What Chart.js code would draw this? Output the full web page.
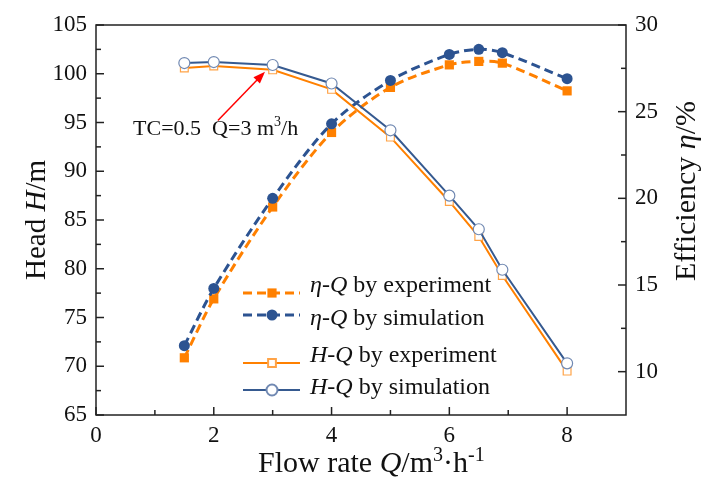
<!DOCTYPE html>
<html>
<head>
<meta charset="utf-8">
<script src="https://cdn.jsdelivr.net/npm/chart.js@4.4.0/dist/chart.umd.min.js"></script>
<style>
    html, body { margin: 0; padding: 0; background: #fff; }
    #wrap { width: 705px; height: 481px; }
</style>
</head>
<body>
<div id="wrap"><canvas id="pumpChart"></canvas></div>
<script>
// values
const flowRate = [1.5, 2, 3, 4, 5, 6, 6.5, 6.9, 8];
const effExperiment = [10.8, 14.2, 19.5, 23.8, 26.4, 27.7, 27.9, 27.8, 26.2];
const effSimulation = [11.5, 14.8, 20.0, 24.3, 26.8, 28.3, 28.6, 28.4, 26.9];
const headExperiment = [100.6, 100.8, 100.4, 98.4, 93.5, 86.9, 83.3, 79.3, 69.5];
const headSimulation = [101.1, 101.2, 100.9, 99.0, 94.2, 87.5, 84.05, 79.9, 70.3];

const flowTicks = [0, 2, 4, 6, 8];
const headTicks = [65, 70, 75, 80, 85, 90, 95, 100, 105];
const effTicks = [10, 15, 20, 25, 30];

const ORANGE = '#FF8000';
const BLUE = '#2C5391';
const SERIF = '"Liberation Serif", "Times New Roman", serif';

const points = (ys) => flowRate.map((q, i) => ({ x: q, y: ys[i] }));
const midpoints = (arr) => arr.slice(1).map((v, i) => (v + arr[i]) / 2);

// text with italic / superscript pieces
function drawRich(ctx, parts, x, y, size, align, supScale) {
    const sc = supScale || 0.62;
    const fontOf = p => (p.it ? 'italic ' : '') + (p.sup ? Math.round(size * sc) : size) + 'px ' + SERIF;
    let total = 0;
    parts.forEach(p => { ctx.font = fontOf(p); total += ctx.measureText(p.t).width; });
    let cx = align === 'center' ? x - total / 2 : x;
    ctx.textAlign = 'left';
    ctx.textBaseline = 'alphabetic';
    parts.forEach(p => {
        ctx.font = fontOf(p);
        ctx.fillText(p.t, cx, p.sup ? y - size * 0.38 : y);
        cx += ctx.measureText(p.t).width;
    });
}

const frameTicks = {
    id: 'frameTicks',
    beforeDatasetsDraw(chart) {
        const { ctx, chartArea: a, scales } = chart;
        ctx.save();
        ctx.strokeStyle = '#222';
        ctx.lineWidth = 1.5;
        ctx.strokeRect(a.left, a.top, a.right - a.left, a.bottom - a.top);

        const tickX = (vals, len) => vals.forEach(v => {
            const px = scales.x.getPixelForValue(v);
            ctx.beginPath(); ctx.moveTo(px, a.bottom); ctx.lineTo(px, a.bottom - len); ctx.stroke();
        });
        const tickLeft = (vals, len) => vals.forEach(v => {
            const py = scales.y.getPixelForValue(v);
            ctx.beginPath(); ctx.moveTo(a.left, py); ctx.lineTo(a.left + len, py); ctx.stroke();
        });
        const tickRight = (vals, len) => vals.forEach(v => {
            const py = scales.y1.getPixelForValue(v);
            ctx.beginPath(); ctx.moveTo(a.right, py); ctx.lineTo(a.right - len, py); ctx.stroke();
        });
        tickX(flowTicks, 8);
        tickX(midpoints(flowTicks), 5);
        tickLeft(headTicks, 8);
        tickLeft(midpoints(headTicks), 5);
        tickRight(effTicks, 8);
        tickRight(midpoints(effTicks), 5);
        ctx.restore();
    }
};

const extras = {
    id: 'extras',
    afterDraw(chart) {
        const { ctx, chartArea: a, scales } = chart;
        ctx.save();
        ctx.fillStyle = '#111';

        // axis titles
        drawRich(ctx, [{ t: 'Flow rate ' }, { t: 'Q', it: true }, { t: '/m' }, { t: '3', sup: true }, { t: '·h' }, { t: '-1', sup: true }],
            a.left + 162, a.bottom + 57, 30, 'left', 0.68);

        ctx.save();
        ctx.translate(a.left - 51, (a.top + a.bottom) / 2);
        ctx.rotate(-Math.PI / 2);
        drawRich(ctx, [{ t: 'Head ' }, { t: 'H', it: true }, { t: '/m' }], 0, 0, 29, 'center');
        ctx.restore();

        ctx.save();
        ctx.translate(a.right + 69, a.top + 166);
        ctx.rotate(-Math.PI / 2);
        drawRich(ctx, [{ t: 'Efficiency ' }, { t: 'η', it: true }, { t: '/%' }], 0, 0, 30, 'center');
        ctx.restore();

        // annotation arrow
        const tail = { x: scales.x.getPixelForValue(2.07), y: scales.y.getPixelForValue(95.2) };
        const tip = { x: scales.x.getPixelForValue(2.87), y: scales.y.getPixelForValue(100.2) };
        const ang = Math.atan2(tip.y - tail.y, tip.x - tail.x);
        ctx.strokeStyle = '#FF0000';
        ctx.fillStyle = '#FF0000';
        ctx.lineWidth = 1.5;
        ctx.beginPath();
        ctx.moveTo(tail.x, tail.y);
        ctx.lineTo(tip.x - 8 * Math.cos(ang), tip.y - 8 * Math.sin(ang));
        ctx.stroke();
        ctx.beginPath();
        ctx.moveTo(tip.x, tip.y);
        ctx.lineTo(tip.x - 12 * Math.cos(ang) + 4.5 * Math.sin(ang), tip.y - 12 * Math.sin(ang) - 4.5 * Math.cos(ang));
        ctx.lineTo(tip.x - 12 * Math.cos(ang) - 4.5 * Math.sin(ang), tip.y - 12 * Math.sin(ang) + 4.5 * Math.cos(ang));
        ctx.closePath();
        ctx.fill();

        ctx.fillStyle = '#111';
        drawRich(ctx, [{ t: 'TC=0.5  Q=3 m' }, { t: '3', sup: true }, { t: '/h' }],
            scales.x.getPixelForValue(0.63), scales.y.getPixelForValue(93.75), 22, 'left');

        // legend inside the plot
        const rows = [
            { ds: 0, sym: 293, base: 292, parts: [{ t: 'η', it: true }, { t: '-' }, { t: 'Q', it: true }, { t: ' by experiment' }] },
            { ds: 1, sym: 315, base: 325, parts: [{ t: 'η', it: true }, { t: '-' }, { t: 'Q', it: true }, { t: ' by simulation' }] },
            { ds: 2, sym: 363, base: 362, parts: [{ t: 'H', it: true }, { t: '-' }, { t: 'Q', it: true }, { t: ' by experiment' }] },
            { ds: 3, sym: 390, base: 394, parts: [{ t: 'H', it: true }, { t: '-' }, { t: 'Q', it: true }, { t: ' by simulation' }] }
        ];
        rows.forEach(r => {
            const ds = chart.data.datasets[r.ds];
            ctx.save();
            ctx.strokeStyle = ds.borderColor;
            ctx.lineWidth = ds.borderWidth;
            ctx.setLineDash(ds.borderDash || []);
            ctx.beginPath();
            ctx.moveTo(a.left + 147, r.sym);
            ctx.lineTo(a.left + 204, r.sym);
            ctx.stroke();
            ctx.setLineDash([]);
            ctx.fillStyle = ds.pointBackgroundColor;
            ctx.strokeStyle = ds.pointBorderColor;
            Chart.helpers.drawPoint(ctx, {
                pointStyle: ds.pointStyle, radius: ds.pointRadius, borderWidth: ds.pointBorderWidth, rotation: 0
            }, a.left + 176, r.sym);
            ctx.restore();
            ctx.fillStyle = '#111';
            drawRich(ctx, r.parts, a.left + 214, r.base, 24, 'left');
        });
        ctx.restore();
    }
};

const tickFont = { family: SERIF, size: 23 };

new Chart(document.getElementById('pumpChart'), {
    type: 'line',
    data: {
        datasets: [{
            label: 'η-Q by experiment',
            data: points(effExperiment),
            yAxisID: 'y1',
            borderColor: ORANGE,
            borderWidth: 3,
            borderDash: [9, 5],
            tension: 0.3,
            pointStyle: 'rect',
            pointRadius: 6.5,
            pointBorderWidth: 0,
            pointBackgroundColor: ORANGE,
            pointBorderColor: ORANGE,
            order: 3
        }, {
            label: 'η-Q by simulation',
            data: points(effSimulation),
            yAxisID: 'y1',
            borderColor: BLUE,
            borderWidth: 3,
            borderDash: [9, 5],
            tension: 0.3,
            pointStyle: 'circle',
            pointRadius: 5.5,
            pointBorderWidth: 0,
            pointBackgroundColor: BLUE,
            pointBorderColor: BLUE,
            order: 2
        }, {
            label: 'H-Q by experiment',
            data: points(headExperiment),
            yAxisID: 'y',
            borderColor: ORANGE,
            borderWidth: 2,
            tension: 0,
            pointStyle: 'rect',
            pointRadius: 5.5,
            pointBorderWidth: 1.2,
            pointBackgroundColor: '#ffffff',
            pointBorderColor: '#FFA347',
            order: 1
        }, {
            label: 'H-Q by simulation',
            data: points(headSimulation),
            yAxisID: 'y',
            borderColor: '#365A90',
            borderWidth: 2,
            tension: 0,
            pointStyle: 'circle',
            pointRadius: 5.5,
            pointBorderWidth: 1.2,
            pointBackgroundColor: '#ffffff',
            pointBorderColor: '#7189B2',
            order: 0
        }]
    },
    options: {
        responsive: true,
        maintainAspectRatio: false,
        animation: false,
        events: [],
        layout: { padding: { top: 25, left: 0, right: 0, bottom: 0 } },
        plugins: {
            legend: { display: false },
            tooltip: { enabled: false }
        },
        scales: {
            x: {
                type: 'linear',
                min: 0,
                max: 9,
                afterBuildTicks: s => { s.ticks = flowTicks.map(v => ({ value: v })); },
                afterFit: s => { s.height = 66; },
                grid: { display: false, drawTicks: false },
                border: { display: false },
                ticks: { padding: 7, color: '#111', font: tickFont, maxRotation: 0 }
            },
            y: {
                position: 'left',
                min: 65,
                max: 105,
                afterBuildTicks: s => { s.ticks = headTicks.map(v => ({ value: v })); },
                afterFit: s => { s.width = 96; },
                grid: { display: false, drawTicks: false },
                border: { display: false },
                ticks: { padding: 9, color: '#111', font: tickFont }
            },
            y1: {
                position: 'right',
                min: 7.5,
                max: 30,
                afterBuildTicks: s => { s.ticks = effTicks.map(v => ({ value: v })); },
                afterFit: s => { s.width = 79; },
                grid: { display: false, drawTicks: false },
                border: { display: false },
                ticks: { padding: 9, color: '#111', font: tickFont }
            }
        }
    },
    plugins: [frameTicks, extras]
});
</script>
</body>
</html>
